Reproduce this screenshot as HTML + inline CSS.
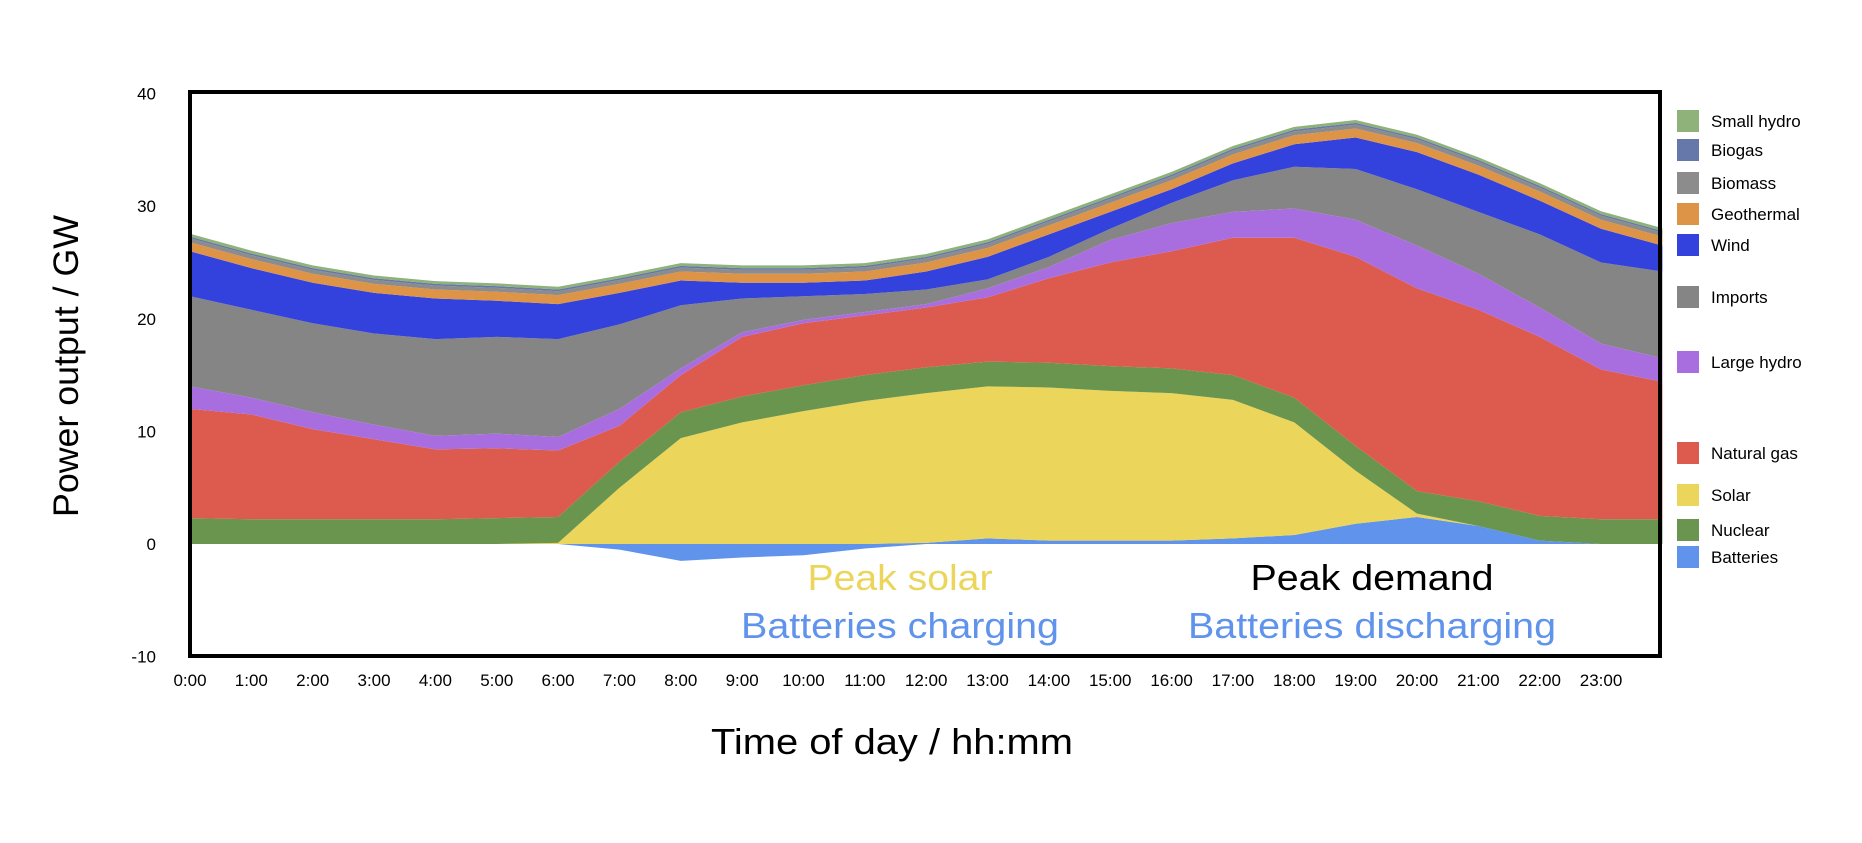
<!DOCTYPE html>
<html><head><meta charset="utf-8"><style>
body{margin:0;background:#fff;}
svg text{font-family:"Liberation Sans",sans-serif;}
</style></head><body>
<svg id="chart" width="1862" height="838" viewBox="0 0 1862 838" xmlns="http://www.w3.org/2000/svg">
<g id="layers"></g>
<g id="ticks"></g>
<rect x="190" y="92" width="1470" height="564" fill="none" stroke="#000" stroke-width="4"/>
<text transform="translate(78,366) rotate(-90)" text-anchor="middle" font-size="35" textLength="302" lengthAdjust="spacingAndGlyphs">Power output / GW</text>
<text x="892" y="754" text-anchor="middle" font-size="36" textLength="362" lengthAdjust="spacingAndGlyphs">Time of day / hh:mm</text>
<text x="900" y="590" text-anchor="middle" font-size="36" fill="#ebd55a" textLength="185" lengthAdjust="spacingAndGlyphs">Peak solar</text>
<text x="900" y="638" text-anchor="middle" font-size="36" fill="#5f93ec" textLength="318" lengthAdjust="spacingAndGlyphs">Batteries charging</text>
<text x="1372" y="590" text-anchor="middle" font-size="36" fill="#000" textLength="243" lengthAdjust="spacingAndGlyphs">Peak demand</text>
<text x="1372" y="638" text-anchor="middle" font-size="36" fill="#5f93ec" textLength="368" lengthAdjust="spacingAndGlyphs">Batteries discharging</text>
<g id="legend"></g>
</svg>
<script>
const hours=[0,1,2,3,4,5,6,7,8,9,10,11,12,13,14,15,16,17,18,19,20,21,22,23,24];
const batteries=[0,0,0,0,0,0,0,-0.5,-1.5,-1.2,-1.0,-0.4,0.1,0.5,0.3,0.3,0.3,0.5,0.8,1.8,2.4,1.6,0.3,0,0];
const solar=[0,0,0,0,0,0,0.1,5.0,9.4,10.8,11.8,12.7,13.3,13.5,13.6,13.3,13.1,12.3,10.0,4.7,0.3,0,0,0,0];
const nuclear=[2.3,2.2,2.2,2.2,2.2,2.3,2.3,2.3,2.3,2.3,2.3,2.3,2.3,2.2,2.2,2.2,2.2,2.2,2.2,2.2,2.0,2.2,2.2,2.2,2.2];
const naturalGas=[9.7,9.3,8.0,7.1,6.2,6.2,5.9,3.2,3.3,5.3,5.5,5.3,5.3,5.7,7.5,9.2,10.4,12.2,14.2,16.8,18.0,17.0,15.9,13.3,12.2];
const largeHydro=[2.0,1.5,1.5,1.3,1.2,1.3,1.2,1.5,0.6,0.4,0.3,0.3,0.3,0.8,1.0,2.0,2.5,2.3,2.6,3.3,3.8,3.2,2.6,2.3,2.1];
const imports=[8.0,7.8,7.9,8.1,8.6,8.6,8.7,7.5,5.6,3.0,2.1,1.6,1.3,0.8,0.9,1.0,1.8,2.8,3.7,4.5,5.0,5.5,6.5,7.2,7.7];
const wind=[4.0,3.7,3.6,3.6,3.6,3.2,3.1,2.8,2.2,1.4,1.2,1.2,1.6,2.0,2.0,1.5,1.2,1.5,2.0,2.8,3.3,3.3,3.0,3.0,2.3];
const geothermal=[0.8,0.8,0.8,0.8,0.8,0.8,0.8,0.8,0.8,0.8,0.8,0.8,0.8,0.8,0.8,0.8,0.8,0.8,0.8,0.8,0.8,0.8,0.8,0.8,0.8];
const biomass=[0.35,0.35,0.35,0.35,0.35,0.35,0.35,0.35,0.35,0.35,0.35,0.35,0.35,0.35,0.35,0.35,0.35,0.35,0.35,0.35,0.35,0.35,0.35,0.35,0.35];
const biogas=[0.15,0.15,0.15,0.15,0.15,0.15,0.15,0.15,0.15,0.15,0.15,0.15,0.15,0.15,0.15,0.15,0.15,0.15,0.15,0.15,0.15,0.15,0.15,0.15,0.15];
const smallHydro=[0.25,0.25,0.25,0.25,0.25,0.25,0.25,0.25,0.25,0.25,0.25,0.25,0.25,0.25,0.25,0.25,0.25,0.25,0.25,0.25,0.25,0.25,0.25,0.25,0.25];
const yTicks=[40,30,20,10,0,-10];
const xTickLabels=["0:00","1:00","2:00","3:00","4:00","5:00","6:00","7:00","8:00","9:00","10:00","11:00","12:00","13:00","14:00","15:00","16:00","17:00","18:00","19:00","20:00","21:00","22:00","23:00"];
const legendNames=["Small hydro","Biogas","Biomass","Geothermal","Wind","Imports","Large hydro","Natural gas","Solar","Nuclear","Batteries"];

const NS="http://www.w3.org/2000/svg";
const X=h=>190+h*61.35;
const Y=v=>544-v*11.26;
function mk(tag,attrs,parent){const e=document.createElementNS(NS,tag);for(const k in attrs)e.setAttribute(k,attrs[k]);parent.appendChild(e);return e;}

const stack=[
 ["solar",solar,"#ebd55a"],["nuclear",nuclear,"#6a954e"],["natural-gas",naturalGas,"#dd5a4f"],
 ["large-hydro",largeHydro,"#a86ee0"],["imports",imports,"#858585"],["wind",wind,"#3442dd"],
 ["geothermal",geothermal,"#dd9447"],["biomass",biomass,"#8c8c8c"],["biogas",biogas,"#6677aa"],["small-hydro",smallHydro,"#8fb17a"]];
const layers=document.getElementById('layers');
function area(lo,hi,color,name){
  let d="M"+hours.map((h,i)=>X(h)+","+Y(hi[i])).join("L");
  for(let i=hours.length-1;i>=0;i--)d+="L"+X(hours[i])+","+Y(lo[i]);
  const p=mk('path',{d:d+"Z",fill:color},layers);
  
  
}
const zero=hours.map(()=>0);
area(zero,batteries.map(v=>Math.min(v,0)),"#5f93ec","batteries-charging");
let base=batteries.map(v=>Math.max(v,0));
area(zero,base,"#5f93ec","batteries-discharging");
for(const [name,vals,color] of stack){
  const top=base.map((b,i)=>b+vals[i]);
  area(base,top,color,name);
  base=top;
}
const ticks=document.getElementById('ticks');
yTicks.forEach(v=>{
  const t=mk('text',{x:156,y:Y(v)+6,'text-anchor':'end','font-size':17},ticks);
  t.textContent=v;
  
  
});
xTickLabels.forEach((s,i)=>{
  const t=mk('text',{x:X(i),y:686,'text-anchor':'middle','font-size':17},ticks);
  t.textContent=s;
  
  
});
const legendColors=["#8fb17a","#6677aa","#8c8c8c","#dd9447","#3442dd","#858585","#a86ee0","#dd5a4f","#ebd55a","#6a954e","#5f93ec"];
const legendY=[121,150,183,214,245,297,362,453,495,530,557];
const lg=document.getElementById('legend');
legendNames.forEach((n,i)=>{
  const g=mk('g',{},lg);
  
  
  mk('rect',{x:1677,y:legendY[i]-11,width:22,height:22,fill:legendColors[i]},g);
  const t=mk('text',{x:1711,y:legendY[i]+6,'font-size':17},g);
  t.textContent=n;
});
</script>
</body></html>
